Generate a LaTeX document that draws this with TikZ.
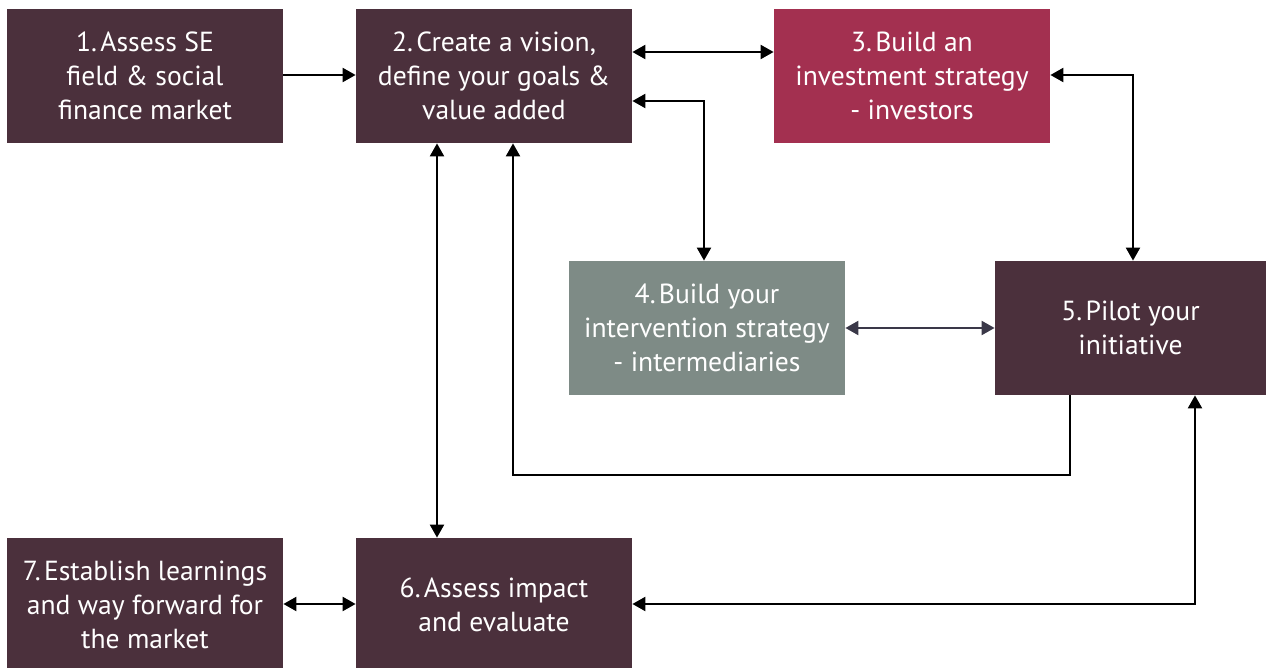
\documentclass[tikz,border=0pt]{standalone}
\usepackage{fontspec}
\setmainfont{PT Sans}
\usetikzlibrary{arrows.meta}
\definecolor{boxdark}{RGB}{75,48,60}
\definecolor{boxred}{RGB}{163,48,80}
\definecolor{boxgray}{RGB}{126,139,134}
\definecolor{linegray}{RGB}{58,56,72}
\tikzset{
  stepbox/.style={fill=boxdark, text=white, minimum width=138pt, minimum height=67pt,
    inner sep=0pt, align=center, font=\fontsize{13.8}{17}\selectfont},
  tip/.style={},
  arr/.style={line width=1.1pt, -{Triangle[length=6.5pt,width=7pt]}},
  dbl/.style={line width=1.1pt, {Triangle[length=6.5pt,width=7pt]}-{Triangle[length=6.5pt,width=7pt]}},
}
\newcommand{\nsp}{\hspace{0.12em}}
\begin{document}
\begin{tikzpicture}[x=0.5pt,y=-0.5pt]
\useasboundingbox (0,0) rectangle (1266,668);
\node[stepbox] (n1) at (145,76) {1.\nsp Assess SE\\field \& social\\finance market};
\node[stepbox] (n2) at (494,76) {2.\nsp Create a vision,\\define your goals \&\\value added};
\node[stepbox, fill=boxred] (n3) at (912,76) {3.\nsp Build an\\investment strategy\\- investors};
\node[stepbox, fill=boxgray] (n4) at (707,328) {4.\nsp Build your\\intervention strategy\\- intermediaries};
\node[stepbox, minimum width=135.5pt] (n5) at (1130.5,328) {5.\nsp Pilot your\\initiative};
\node[stepbox] (n6) at (494,605) {6.\nsp Assess impact\\and evaluate};
\node[stepbox] (n7) at (145,605) {7.\nsp Establish learnings\\and way forward for\\the market};

\draw[arr] (n1.east |- 0,75) -- (n2.west |- 0,75);
\draw[dbl] (n2.east |- 0,52) -- (n3.west |- 0,52);
\draw[dbl] (n2.east |- 0,101) -| (704,0 |- n4.north);
\draw[dbl] (n3.east |- 0,75) -| (1133,0 |- n5.north);
\draw[dbl, draw=linegray, fill=linegray] (n4.east) -- (n5.west);
\draw[dbl] (437,0 |- n2.south) -- (437,0 |- n6.north);
\draw[arr] (1070,0 |- n5.south) |- (513,475) -- (513,0 |- n2.south);
\draw[dbl] (n7.east |- 0,604) -- (n6.west |- 0,604);
\draw[dbl] (n6.east |- 0,604) -| (1195,0 |- n5.south);
\end{tikzpicture}
\end{document}
